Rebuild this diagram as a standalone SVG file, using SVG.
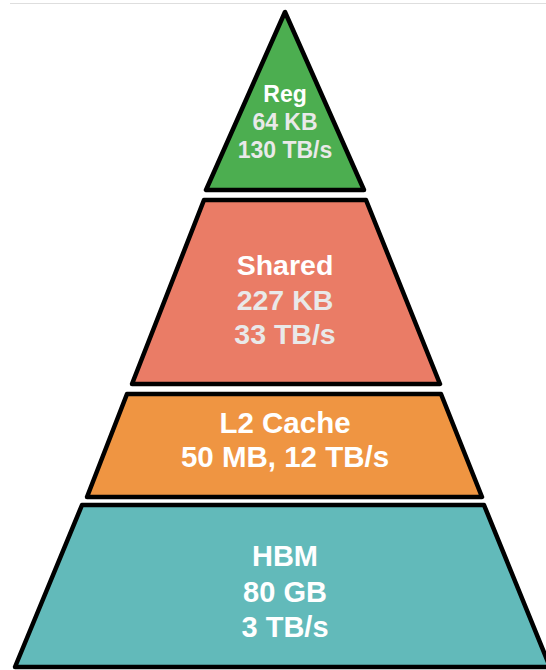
<svg xmlns="http://www.w3.org/2000/svg" width="546" height="670" viewBox="0 0 546 670">
<style>
.lvl{stroke:#000;stroke-width:4.5;stroke-linejoin:round}
.t{font-family:"Liberation Sans",Arial,Helvetica,sans-serif;font-weight:bold;text-anchor:middle;fill:#fff}
.g{fill:#e9e9e9}
</style>
<rect width="546" height="670" fill="#fff"/>
<line x1="10" y1="3.5" x2="546" y2="3.5" stroke="#dedede" stroke-width="1.2"/>
<g id="reg">
<polygon class="lvl" points="285,12 206,190 364,190" fill="#4cae50"/>
<text class="t" x="285" y="102" font-size="23">Reg</text>
<text class="t g" x="285" y="130" font-size="23">64 KB</text>
<text class="t g" x="285" y="158" font-size="23">130 TB/s</text>
</g>
<g id="shared">
<polygon class="lvl" points="204,200 366,200 440,384 132,384" fill="#ea7c66"/>
<text class="t" x="285" y="275" font-size="28.5">Shared</text>
<text class="t g" x="285" y="310" font-size="28.5">227 KB</text>
<text class="t g" x="285" y="344" font-size="28.5">33 TB/s</text>
</g>
<g id="l2">
<polygon class="lvl" points="127,394 441,394 482,497 87,497" fill="#ef9542"/>
<text class="t" x="285" y="433" font-size="29.5">L2 Cache</text>
<text class="t" x="285" y="467" font-size="29.5">50 MB, 12 TB/s</text>
</g>
<g id="hbm">
<polygon class="lvl" points="82,505 484,505 550,667 15,667" fill="#62baba"/>
<text class="t" x="285" y="566" font-size="29">HBM</text>
<text class="t" x="285" y="602" font-size="29">80 GB</text>
<text class="t" x="285" y="637" font-size="29">3 TB/s</text>
</g>
<g id="connectors"/>
</svg>
